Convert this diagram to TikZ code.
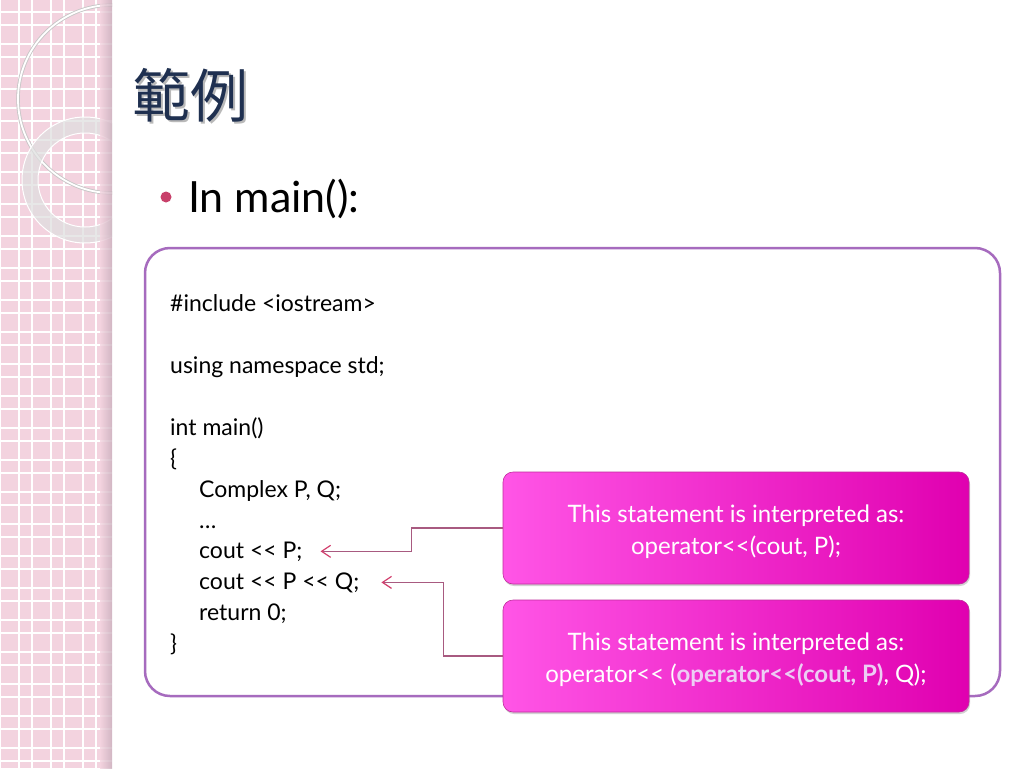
\documentclass[tikz,border=0pt]{standalone}
\usepackage{fontspec}
\setmainfont{Lato}
\newfontfamily\cjkfont{Noto Sans CJK TC}
\usetikzlibrary{arrows.meta,shadows}

\definecolor{stripPink}{HTML}{F3D3DF}
\definecolor{stripShade}{HTML}{C9AFBC}
\definecolor{frameViolet}{HTML}{A66BBE}
\definecolor{titleNavy}{HTML}{1F3050}
\definecolor{dotRed}{HTML}{C8406A}
\definecolor{boxLight}{HTML}{FF55E6}
\definecolor{boxDark}{HTML}{E000B0}
\definecolor{boxEdge}{HTML}{C02C9C}
\definecolor{linkMauve}{HTML}{A85A80}
\definecolor{tipRed}{HTML}{D2406E}
\definecolor{boldLilac}{HTML}{EDCDF4}
% two < signs, kept apart so they are not set as a guillemet
\newcommand\shl{<\kern0pt<}

\begin{document}
\begin{tikzpicture}[x=1pt,y=-1pt,
  codeline/.style={anchor=base west,inner sep=0pt,font=\fontsize{23}{27}\selectfont},
  callout/.style={rounded corners=10pt,left color=boxLight,right color=boxDark,draw=boxEdge,line width=0.6pt,
    minimum width=466pt,minimum height=112pt,align=center,text=white,font=\fontsize{24}{32}\selectfont,
    drop shadow={shadow xshift=1pt,shadow yshift=-2pt,opacity=0.35}},
  link/.style={draw=linkMauve,line width=1.2pt,-{Straight Barb[length=9pt,width=12pt,color=tipRed]}}]
  \useasboundingbox (0,0) rectangle (1024,768);
  \fill[white] (0,0) rectangle (1024,768);
  % left strip
  \begin{scope}
    \clip (0,0) rectangle (112,768);
    \fill[stripPink] (0,0) rectangle (112,768);
    \foreach \x in {0,32,...,96} {
      \draw[white,line width=1.8pt] (\x,0) -- (\x,768);
      \draw[white,line width=1.8pt] (\x+19,0) -- (\x+19,768);
    }
    \foreach \y in {12,44,...,768} {
      \draw[white,line width=1.8pt] (0,\y) -- (112,\y);
      \draw[white,line width=1.8pt] (0,\y+13) -- (112,\y+13);
    }
    \draw[gray!45,line width=3.5pt] (112,99) circle[radius=94];
    \draw[white,line width=1.8pt] (112,99) circle[radius=94];
    \fill[even odd rule,gray!25,fill opacity=0.75] (85,180) circle[radius=63] (85,180) circle[radius=47];
    \draw[white,line width=1pt] (85,180) circle[radius=63] (85,180) circle[radius=47];
    \shade[left color=stripPink,right color=stripShade,opacity=0.8] (100,0) rectangle (112,768);
  \end{scope}
  % title and bullet
  \node[anchor=west,text=gray!55,font=\cjkfont\fontsize{58}{62}\selectfont] (titleshade) at (131,97) {範例};
  \node[anchor=west,text=titleNavy,font=\cjkfont\fontsize{58}{62}\selectfont] (title) at (129,95) {範例};
  \node[circle,fill=dotRed,minimum size=11pt,inner sep=0pt] (dot) at (166,197) {};
  \node[anchor=base west,inner sep=0pt,font=\fontsize{43}{47}\selectfont] (head) at (188,212) {In main():};
  % code frame
  \draw[frameViolet,line width=2.5pt,rounded corners=25pt] (145,248) rectangle (1000,696);
  \node[codeline] (inc) at (170,311) {\#include <iostream>};
  \node[codeline] (usingns) at (170,373) {using namespace std;};
  \node[codeline] (mainsig) at (170,435) {int main()};
  \node[codeline] (open) at (170,466) {\{};
  \node[codeline] (decl) at (199,497) {Complex P, Q;};
  \node[codeline] (dots) at (199,528) {…};
  \node[codeline] (outone) at (199,558) {cout \shl{} P;};
  \node[codeline] (outtwo) at (199,589) {cout \shl{} P \shl{} Q;};
  \node[codeline] (ret) at (199,620) {return 0;};
  \node[codeline] (close) at (170,651) {\}};
  % callouts
  \node[callout] (boxone) at (736,528) {\rule{0pt}{25pt}This statement is interpreted as:\\operator\shl(cout, P);};
  \node[callout] (boxtwo) at (736,656) {\rule{0pt}{25pt}This statement is interpreted as:\\operator\shl{} ({\bfseries\color{boldLilac}operator\shl(cout, P)}, Q);};
  \draw[link] (boxone.west) -- ++(-91,0) |- ([xshift=18pt]outone.east);
  \draw[link] (boxtwo.west) -- ++(-59,0) |- ([xshift=22pt]outtwo.east);
\end{tikzpicture}
\end{document}
